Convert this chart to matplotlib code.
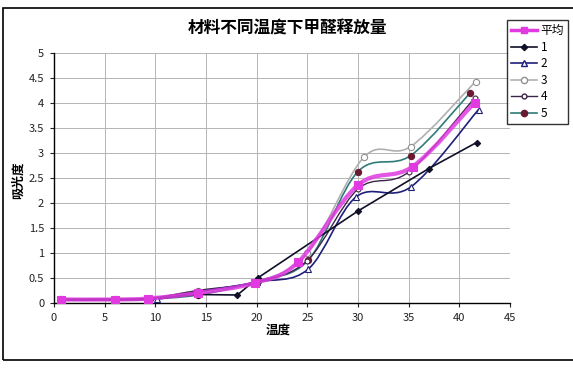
#!/usr/bin/env python3

import matplotlib
matplotlib.use('Agg')
import matplotlib.pyplot as plt
from matplotlib.path import Path
from matplotlib.patches import PathPatch, Rectangle
from matplotlib.lines import Line2D

plt.rcParams['font.family'] = ['Noto Sans CJK SC', 'DejaVu Sans']

TITLE = '材料不同温度下甲醛释放量'
X_LABEL = '温度'
Y_LABEL = '吸光度'

# (temperature, absorbance)
x_avg = [0.7, 6.0, 9.3, 14.2, 19.8, 24.1, 30.0, 35.4, 41.5]
y_avg = [0.07, 0.07, 0.09, 0.20, 0.40, 0.82, 2.36, 2.73, 4.01]

x_s1 = [0.7, 6.0, 9.5, 14.2, 18.1, 20.1, 30.0, 37.0, 41.7]
y_s1 = [0.07, 0.07, 0.08, 0.17, 0.16, 0.50, 1.84, 2.69, 3.21]

x_s2 = [0.7, 6.0, 10.2, 14.2, 20.0, 25.1, 29.8, 35.2, 41.9]
y_s2 = [0.06, 0.06, 0.08, 0.22, 0.42, 0.68, 2.12, 2.32, 3.87]

x_s3 = [0.7, 6.0, 9.5, 14.2, 20.0, 25.0, 30.6, 35.2, 41.6]
y_s3 = [0.08, 0.08, 0.09, 0.25, 0.42, 1.00, 2.92, 3.13, 4.43]

x_s4 = [0.7, 6.0, 9.5, 14.2, 20.0, 25.0, 30.0, 35.0, 41.5]
y_s4 = [0.07, 0.07, 0.09, 0.25, 0.42, 0.85, 2.28, 2.62, 4.10]

x_s5 = [0.7, 6.0, 9.2, 14.2, 20.1, 25.1, 30.0, 35.2, 41.1]
y_s5 = [0.07, 0.07, 0.08, 0.16, 0.44, 0.86, 2.63, 2.95, 4.21]


def smooth_path(xs, ys):
    """excel style smoothed line as cubic bezier segments"""
    pts = list(zip(xs, ys))
    n = len(pts)
    verts = [pts[0]]
    codes = [Path.MOVETO]
    for i in range(n - 1):
        p0 = pts[max(i - 1, 0)]
        p1 = pts[i]
        p2 = pts[i + 1]
        p3 = pts[min(i + 2, n - 1)]
        c1 = (p1[0] + (p2[0] - p0[0]) / 6, p1[1] + (p2[1] - p0[1]) / 6)
        c2 = (p2[0] - (p3[0] - p1[0]) / 6, p2[1] - (p3[1] - p1[1]) / 6)
        verts += [c1, c2, p2]
        codes += [Path.CURVE4] * 3
    return Path(verts, codes)


def draw_series(ax, xs, ys, color, lw, marker, ms, mfc, mec, smooth=True, alpha=1.0, z=3):
    if smooth:
        ax.add_patch(PathPatch(smooth_path(xs, ys), fill=False, edgecolor=color,
                               linewidth=lw, alpha=alpha, zorder=z))
    else:
        ax.plot(xs, ys, color=color, lw=lw, alpha=alpha, zorder=z)
    ax.plot(xs, ys, ls='none', marker=marker, ms=ms, mfc=mfc, mec=mec, mew=0.8, zorder=z + 0.5)


fig = plt.figure(figsize=(5.73, 3.70), dpi=100)
# outer chart frame, right edge runs off the picture
fig.patches.append(Rectangle((3 / 573, 1 - 360 / 370), 1.0, 352 / 370, transform=fig.transFigure,
                             fill=False, edgecolor='black', linewidth=1.2))

ax = fig.add_axes([54 / 573, 1 - 303 / 370, 456 / 573, 250 / 370])
ax.set_xlim(0, 45)
ax.set_ylim(0, 5)
ax.set_xticks(range(0, 46, 5))
ax.set_yticks([0, 0.5, 1, 1.5, 2, 2.5, 3, 3.5, 4, 4.5, 5])
ax.set_yticklabels(['0', '0.5', '1', '1.5', '2', '2.5', '3', '3.5', '4', '4.5', '5'])
ax.grid(True, color='#b4b4b4', linewidth=0.7)
ax.set_axisbelow(True)
for s in ['top', 'right']:
    ax.spines[s].set_visible(False)
for s in ['left', 'bottom']:
    ax.spines[s].set_linewidth(1.0)
ax.tick_params(labelsize=8, length=3, width=0.8, direction='out', pad=4, colors='#222222')

draw_series(ax, x_s3, y_s3, '#b0b0b0', 1.2, 'o', 4.5, 'white', '#909090')
draw_series(ax, x_s5, y_s5, '#2e7b78', 1.2, 'o', 4.5, '#6a1a30', '#6a1a30')
draw_series(ax, x_s4, y_s4, '#3a2448', 1.0, 'o', 3.5, 'white', '#3a2448')
draw_series(ax, x_s2, y_s2, '#1f1f7a', 1.2, '^', 4.5, 'white', '#1f1f7a')
draw_series(ax, x_s1, y_s1, '#101028', 1.2, 'D', 3.2, '#101028', '#101028', smooth=False)
draw_series(ax, x_avg, y_avg, '#e03ae0', 3.0, 's', 5.5, '#e03ae0', '#e03ae0', alpha=0.85, z=4)

fig.text(278 / 573, 1 - 330 / 370, X_LABEL, fontsize=9, fontweight='bold',
         ha='center', va='center')
fig.text(18 / 573, 1 - 180 / 370, Y_LABEL, fontsize=9, fontweight='bold',
         ha='center', va='center', rotation=90)
fig.text(287 / 573, 1 - 29 / 370, TITLE, fontsize=12, fontweight='bold',
         ha='center', va='center')

handles = [
    Line2D([], [], color='#e03ae0', lw=2.5, marker='s', ms=5, mfc='#e03ae0'),
    Line2D([], [], color='#101028', lw=1.2, marker='D', ms=3.2, mfc='#101028'),
    Line2D([], [], color='#1f1f7a', lw=1.2, marker='^', ms=4.5, mfc='white'),
    Line2D([], [], color='#b0b0b0', lw=1.2, marker='o', ms=4.5, mfc='white', mec='#909090'),
    Line2D([], [], color='#3a2448', lw=1.0, marker='o', ms=3.5, mfc='white'),
    Line2D([], [], color='#2e7b78', lw=1.2, marker='o', ms=4.5, mfc='#6a1a30', mec='#6a1a30'),
]
labels = ['平均', '1', '2', '3', '4', '5']
leg = fig.legend(handles, labels, loc='upper left', bbox_to_anchor=(507 / 573, 1 - 20 / 370),
                 fontsize=8.5, frameon=True, fancybox=False, edgecolor='black',
                 handlelength=2.2, handletextpad=0.3, borderpad=0.35, labelspacing=0.3,
                 borderaxespad=0)
leg.get_frame().set_linewidth(1.0)

fig.savefig('out.png', dpi=100)
